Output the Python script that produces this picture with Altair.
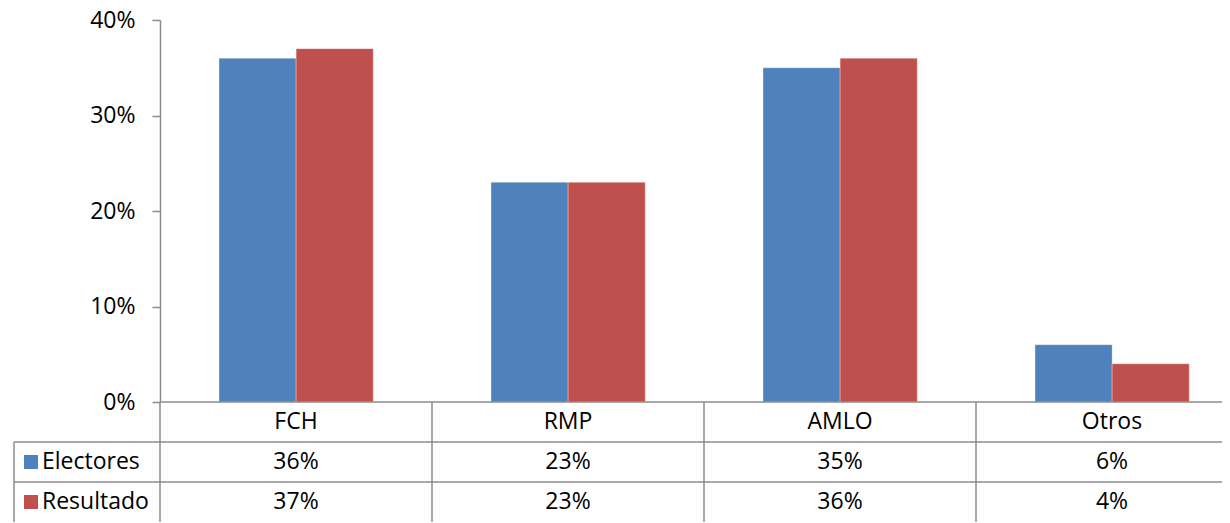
import altair as alt
import pandas as pd

categories = ["FCH", "RMP", "AMLO", "Otros"]
electores = [0.36, 0.23, 0.35, 0.06]
resultado = [0.37, 0.23, 0.36, 0.04]
series = ["Electores", "Resultado"]
colors = ["#4F81BD", "#C0504D"]
y_ticks = [0, 0.1, 0.2, 0.3, 0.4]

PLOT_W, PLOT_H = 1062, 382
COL_W = 272
X_MAX = PLOT_W / COL_W
ROW_H = 40
FONT = "Open Sans"
FS = 23
GRID = "#8c8c8c"
BAR_START = 0.217
BAR_W = 0.2835

rows = []
for i, c in enumerate(categories):
    for k, (s, vals) in enumerate(zip(series, [electores, resultado])):
        rows.append(dict(cat=c, series=s, value=vals[i], idx=i, k=k))
bars_df = pd.DataFrame(rows)

table_rows = []
for i, c in enumerate(categories):
    table_rows.append(dict(label=c, idx=i, row=0))
    table_rows.append(dict(label=f"{round(electores[i]*100)}%", idx=i, row=1))
    table_rows.append(dict(label=f"{round(resultado[i]*100)}%", idx=i, row=2))
table_df = pd.DataFrame(table_rows)

xscale = alt.Scale(domain=[0, X_MAX], nice=False, zero=False)
yscale = alt.Scale(domain=[0, 0.4], nice=False)

bars = alt.Chart(bars_df).transform_calculate(
    x0=f"datum.idx + {BAR_START} + datum.k * {BAR_W}",
    x1=f"datum.idx + {BAR_START} + (datum.k + 1) * {BAR_W}",
).mark_rect(stroke="white", strokeWidth=0.5, strokeOpacity=0.6).encode(
    x=alt.X("x0:Q", scale=xscale, axis=None),
    x2="x1:Q",
    y=alt.Y("value:Q", scale=yscale,
            axis=alt.Axis(values=y_ticks, format=".0%", title=None, grid=False,
                          domainColor=GRID, domainWidth=1.5, tickColor=GRID,
                          tickWidth=1.5, tickSize=8, labelPadding=17,
                          labelFont=FONT, labelFontSize=FS, labelColor="black")),
    y2=alt.Y2(datum=0),
    color=alt.Color("series:N", scale=alt.Scale(domain=series, range=colors), legend=None),
)

def text_layer(r):
    return alt.Chart(table_df).transform_filter(f"datum.row == {r}").transform_calculate(
        xc="datum.idx + 0.5"
    ).mark_text(font=FONT, fontSize=FS, color="black", baseline="middle", align="center").encode(
        x=alt.X("xc:Q", scale=xscale, axis=None),
        y=alt.value(PLOT_H + ROW_H * r + ROW_H / 2),
        text="label:N",
    )

one = pd.DataFrame({"a": [0]})

legend_text = []
legend_sq = []
for k, s in enumerate(series):
    yc = PLOT_H + ROW_H * (k + 1) + ROW_H / 2
    legend_text.append(
        alt.Chart(pd.DataFrame({"s": [s]})).mark_text(
            font=FONT, fontSize=FS, color="black", baseline="middle", align="left"
        ).encode(x=alt.value(-118), y=alt.value(yc), text="s:N")
    )
    legend_sq.append(
        alt.Chart(pd.DataFrame({"s": [s]})).mark_square(size=196, opacity=1).encode(
            x=alt.value(-129), y=alt.value(yc),
            color=alt.Color("s:N", scale=alt.Scale(domain=series, range=colors), legend=None),
        )
    )

rules = []
rules.append(alt.Chart(one).mark_rule(color=GRID, strokeWidth=1.5).encode(
    x=alt.value(0), x2=alt.value(PLOT_W), y=alt.value(PLOT_H)))
for r in [1, 2]:
    rules.append(alt.Chart(one).mark_rule(color=GRID, strokeWidth=1.5).encode(
        x=alt.value(-146), x2=alt.value(PLOT_W), y=alt.value(PLOT_H + ROW_H * r)))
rules.append(alt.Chart(one).mark_rule(color=GRID, strokeWidth=1.5).encode(
    x=alt.value(-146), y=alt.value(PLOT_H + ROW_H), y2=alt.value(PLOT_H + ROW_H * 3 + 10)))

bounds = pd.DataFrame({"b": list(range(len(categories) + 1))})
vlines = alt.Chart(bounds).mark_rule(color=GRID, strokeWidth=1.5).encode(
    x=alt.X("b:Q", scale=xscale, axis=None),
    y=alt.value(PLOT_H), y2=alt.value(PLOT_H + ROW_H * 3 + 10),
)

chart = alt.layer(
    bars, vlines, *rules, text_layer(0), text_layer(1), text_layer(2),
    *legend_sq, *legend_text
).properties(
    width=PLOT_W, height=PLOT_H,
    autosize=alt.AutoSizeParams(type="none"),
    padding={"left": 152, "top": 12, "right": 0, "bottom": 120},
).configure_view(stroke=None).resolve_scale(color="independent")

chart.save("out.html", embed_options={"renderer": "svg", "actions": False})
